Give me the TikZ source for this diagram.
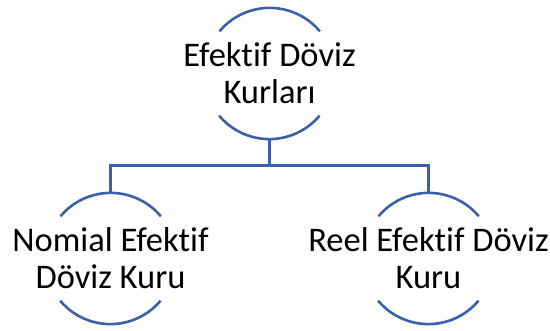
\documentclass[tikz,border=0pt]{standalone}
\usepackage{fontspec}
\setmainfont{Carlito}[Ligatures=NoCommon]
\definecolor{linkblue}{RGB}{58,96,170}
\begin{document}
\begin{tikzpicture}[x=1pt,y=1pt,
  ring/.style={circle, minimum size=131pt, inner sep=0pt, draw=none},
  label/.style={align=center, inner sep=0pt, font=\fontsize{34.5}{37}\selectfont, text=black},
  wire/.style={draw=linkblue, line width=2.6pt}]
\useasboundingbox (0,0) rectangle (550,330);
\node[ring] (top) at (269.5,256.5) {};
\node[ring] (left) at (110.5,71.5) {};
\node[ring] (right) at (428.5,71.5) {};
\node[label] (toptxt) at (top) {Efektif Döviz\\Kurları};
\node[label] (lefttxt) at (left) {Nomial Efektif\\Döviz Kuru};
\node[label] (righttxt) at (right) {Reel Efektif Döviz\\Kuru};
\foreach \n in {top,left,right}{
  \draw[wire] (\n.40) arc[start angle=40, end angle=140, radius=65.5pt];
  \draw[wire] (\n.220) arc[start angle=220, end angle=320, radius=65.5pt];
}
\coordinate (bus) at (0,164.5);
\draw[wire] (top.south) -- (top.south |- bus) -| (left.north);
\draw[wire] (top.south |- bus) -| (right.north);
\end{tikzpicture}
\end{document}
